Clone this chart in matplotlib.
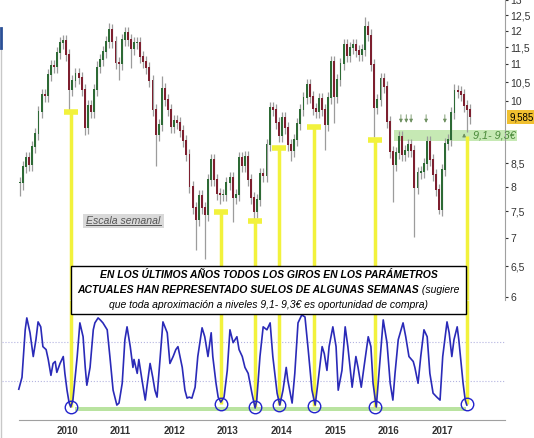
import matplotlib as mp
# Headless
mp.use('Agg')

import matplotlib.pyplot as plt
from matplotlib.patches import Rectangle
from matplotlib.lines import Line2D
import numpy as np

# weekly chart, one close read every 3 weeks starting Feb 2009
start_year = 2009.123
step_weeks = 3
closes = [
    8.07, 8.42, 8.62, 8.46, 8.87, 9.17, 9.72, 10.16, 10.13, 10.70,
    10.95, 10.92, 11.33, 11.63, 11.69, 11.27, 10.29, 10.53, 10.73, 10.62,
    10.29, 9.32, 9.87, 9.72, 10.29, 10.92, 11.13, 11.36, 11.66, 12.03,
    11.66, 11.04, 11.01, 11.72, 11.94, 11.72, 11.45, 11.63, 11.63, 11.21,
    11.07, 10.90, 10.53, 9.77, 9.15, 9.39, 10.32, 10.03, 9.77, 9.34,
    9.49, 9.44, 9.25, 9.01, 8.69, 7.99, 7.57, 7.34, 7.81, 7.57,
    7.43, 8.14, 8.58, 8.14, 7.85, 7.83, 7.83, 8.07, 8.18, 7.77,
    7.83, 8.62, 8.44, 8.64, 8.14, 7.77, 7.49, 7.73, 8.27, 8.23,
    8.92, 9.82, 9.77, 9.44, 9.13, 9.57, 9.32, 8.92, 8.78, 9.03,
    9.42, 9.77, 10.08, 10.43, 10.11, 9.79, 9.72, 10.05, 9.77, 9.39,
    10.08, 11.07, 10.11, 10.56, 11.01, 11.57, 11.24, 11.48, 11.57, 11.39,
    11.27, 11.42, 12.13, 11.87, 10.98, 9.82, 10.03, 10.59, 10.37, 9.47,
    8.76, 8.46, 8.73, 9.10, 8.69, 8.78, 8.92, 8.78, 7.97, 8.29,
    8.31, 8.49, 8.99, 8.58, 8.25, 7.93, 7.53, 8.36, 8.94, 9.03,
    9.69, 10.27, 10.24, 10.16, 9.87, 9.77, 9.585,
]
# long wicks
low_idx = [0, 16, 21, 32, 36, 44, 57, 60, 65, 69, 76, 88, 99, 102, 115, 121, 128, 136, 145]
low_val = [7.80, 9.75, 9.15, 10.56, 10.90, 8.45, 6.78, 6.63, 7.65, 7.30, 7.28, 8.55, 8.80, 9.45, 9.10, 7.69, 7.02, 7.45, 9.22]
high_idx = [29, 46, 112, 141]
high_val = [12.25, 10.66, 12.45, 10.45]

# oscillator (0-100)
osc_t = [
    2009.10, 2009.16, 2009.22, 2009.25, 2009.31, 2009.37, 2009.42, 2009.46, 2009.51, 2009.55,
    2009.61, 2009.65, 2009.70, 2009.74, 2009.78, 2009.81, 2009.87, 2009.93, 2009.96, 2010.00,
    2010.04, 2010.07, 2010.11, 2010.19, 2010.24, 2010.30, 2010.34, 2010.37, 2010.43, 2010.49,
    2010.52, 2010.58, 2010.62, 2010.67, 2010.75, 2010.80, 2010.86, 2010.93, 2010.97, 2011.03,
    2011.08, 2011.12, 2011.18, 2011.23, 2011.25, 2011.31, 2011.34, 2011.40, 2011.46, 2011.49,
    2011.55, 2011.60, 2011.64, 2011.68, 2011.74, 2011.79, 2011.87, 2011.92, 2011.98, 2012.03,
    2012.07, 2012.15, 2012.20, 2012.24, 2012.28, 2012.33, 2012.39, 2012.44, 2012.52, 2012.57,
    2012.63, 2012.69, 2012.72, 2012.78, 2012.82, 2012.87, 2012.93, 2012.99, 2013.04, 2013.10,
    2013.17, 2013.21, 2013.27, 2013.32, 2013.38, 2013.45, 2013.51, 2013.54, 2013.60, 2013.66,
    2013.73, 2013.79, 2013.84, 2013.92, 2013.97, 2014.03, 2014.09, 2014.12, 2014.20, 2014.25,
    2014.31, 2014.38, 2014.44, 2014.50, 2014.57, 2014.63, 2014.68, 2014.76, 2014.80, 2014.85,
    2014.89, 2014.96, 2015.02, 2015.06, 2015.13, 2015.19, 2015.24, 2015.32, 2015.39, 2015.43,
    2015.49, 2015.54, 2015.62, 2015.67, 2015.71, 2015.77, 2015.82, 2015.90, 2015.97, 2016.03,
    2016.08, 2016.12, 2016.18, 2016.27, 2016.32, 2016.38, 2016.46, 2016.49, 2016.55, 2016.60,
    2016.66, 2016.72, 2016.77, 2016.83, 2016.90, 2016.96, 2017.01, 2017.09, 2017.13, 2017.18,
    2017.22, 2017.28, 2017.31, 2017.39, 2017.43, 2017.46,
]
osc_v = [
    22, 34, 82, 94, 79, 55, 72, 90, 85, 65,
    62, 52, 36, 48, 50, 39, 48, 55, 38, 21,
    8, 4, 11, 55, 89, 75, 44, 26, 44, 82,
    89, 94, 92, 89, 82, 55, 21, 6, 8, 28,
    72, 85, 65, 44, 52, 38, 52, 31, 11, 24,
    48, 34, 21, 14, 55, 90, 79, 48, 55, 62,
    65, 44, 21, 13, 14, 13, 24, 55, 84, 75,
    55, 79, 55, 28, 14, 9, 14, 41, 82, 69,
    75, 62, 55, 44, 38, 18, 3, 11, 55, 85,
    82, 89, 55, 18, 6, 21, 44, 31, 8, 38,
    89, 97, 95, 62, 21, 6, 28, 65, 58, 41,
    65, 85, 65, 21, 41, 85, 65, 24, 55, 44,
    24, 44, 75, 65, 28, 4, 38, 92, 69, 28,
    11, 38, 72, 89, 75, 55, 50, 44, 28, 55,
    82, 75, 38, 18, 14, 11, 55, 90, 79, 55,
    72, 85, 72, 28, 11, 6,
]

# oscillator turns marked on the chart
signal_t = [2010.07, 2012.87, 2013.51, 2013.96, 2014.61, 2015.75, 2017.47]
signal_level = [9.72, 7.49, 7.32, 8.85, 9.35, 9.03, 9.13]
signal_osc = [4, 7, 4, 6, 5, 4, 7]
signal_cap = [True, True, True, True, True, True, False]

zone_lo, zone_hi = 9.0, 9.27
touch_t = [2016.23, 2016.33, 2016.42, 2016.70, 2017.05]
touch_up_t = 2017.41
last_price = 9.585

years = list(range(2010, 2018))
price_ticks = [6, 6.5, 7, 7.5, 8, 8.5, 10, 10.5, 11, 11.5, 12, 12.5, 13]

plt.rcParams['font.family'] = ['Liberation Sans', 'DejaVu Sans']

W, H = 534, 438
fig = plt.figure(figsize=(W / 100, H / 100), dpi=100)


def fx(px):
    return px / W


def fy(py):
    return 1 - py / H


ax = fig.add_axes([fx(2), fy(300), fx(505) - fx(2), fy(0) - fy(300)])
ax2 = fig.add_axes([fx(2), fy(420), fx(505) - fx(2), fy(300) - fy(420)])
for a in (ax, ax2):
    a.patch.set_alpha(0)
    a.set_xlim(2008.787, 2018.172)

yel = '#f2f23c'
ylo, yhi = 5.956, 13.01
olo, ohi = -9.1, 112.1

# candles
t = start_year + np.arange(len(closes)) * step_weeks / 52.18
c = np.array(closes)
o = np.r_[c[0], c[:-1]]
hi = np.maximum(o, c) * 1.016
lo = np.minimum(o, c) * 0.984
hi[high_idx] = high_val
lo[low_idx] = low_val
up = c >= o
ax.vlines(t, lo, hi, color='#9c9c9c', lw=0.9, zorder=2)
ax.bar(t[up], (c - o)[up] + 0.02, bottom=o[up], width=0.036, color='#2d6a35', zorder=3)
ax.bar(t[~up], (o - c)[~up] + 0.02, bottom=c[~up], width=0.036, color='#7d1f2f', zorder=3)

ax.set_yscale('log')
ax.set_ylim(ylo, yhi)
ax.yaxis.tick_right()
ax.set_yticks(price_ticks)
ax.set_yticklabels([('%g' % p).replace('.', ',') for p in price_ticks])
ax.yaxis.set_minor_locator(mp.ticker.NullLocator())
ax.tick_params(axis='y', length=2, labelsize=7.5, colors='#333333', pad=2)
ax.set_xticks([])
for s in ('top', 'left', 'bottom'):
    ax.spines[s].set_visible(False)
ax.spines['right'].set_color('#a0a0a0')

# support zone 9,1-9,3
ax.add_patch(Rectangle((2016.10, zone_lo), 2018.40 - 2016.10, zone_hi - zone_lo,
                       fc='#c6e9b4', ec='none', clip_on=False, zorder=1))
ax.text(2017.57, 9.13, '9,1- 9,3€', style='italic', color='#4a8a3a', fontsize=7.8,
        va='center', ha='left', zorder=6, clip_on=False)
for tt in touch_t:
    ax.annotate('', xy=(tt, 9.38), xytext=(tt, 9.72),
                arrowprops=dict(arrowstyle='-|>', color='#6d8f5f', lw=0.6, mutation_scale=5))
ax.annotate('', xy=(touch_up_t, 9.26), xytext=(touch_up_t, 9.05),
            arrowprops=dict(arrowstyle='-|>', color='#6d8f5f', lw=0.6, mutation_scale=5))

ax.annotate(('%g' % last_price).replace('.', ','), xy=(1.0, last_price),
            xycoords=('axes fraction', 'data'), xytext=(3, 0), textcoords='offset points',
            ha='left', va='center', fontsize=7, color='black', annotation_clip=False,
            bbox=dict(boxstyle='square,pad=0.2', fc='#f0c030', ec='none'))

# oscillator panel
ax2.set_ylim(olo, ohi)
ax2.axhline(70, color='#b4b4e0', lw=0.8, ls=':', zorder=1)
ax2.axhline(30, color='#b4b4e0', lw=0.8, ls=':', zorder=1)
ax2.fill_between([2010.15, 2017.44], 0, 4, color='#b9e3a0', lw=0, zorder=1)
ax2.plot(osc_t, osc_v, color='#2a2ab8', lw=1.2, zorder=3, solid_joinstyle='round')

for ti, lvl, ov, cap in zip(signal_t, signal_level, signal_osc, signal_cap):
    ax.vlines(ti, ylo, lvl, color=yel, lw=2.5, zorder=4)
    if cap:
        ax.hlines(lvl, ti - 0.13, ti + 0.13, color=yel, lw=4, zorder=4)
    ax2.vlines(ti, ov, ohi, color=yel, lw=2.5, zorder=2)
ax2.plot(signal_t, signal_osc, 'o', ms=9, mfc='none', mec='#2222cc', mew=1, zorder=4)

ax2.set_yticks([])
ax2.set_xticks(years)
ax2.set_xticklabels([str(y) for y in years])
ax2.tick_params(axis='x', length=0, labelsize=7, colors='#333333', pad=4)
for lab in ax2.get_xticklabels():
    lab.set_fontweight('bold')
for s in ('top', 'left', 'right'):
    ax2.spines[s].set_visible(False)
ax2.spines['bottom'].set_color('#a0a0a0')
ax2.spines['bottom'].set_bounds(2009.10, 2018.172)

# left border
fig.add_artist(Line2D([fx(1), fx(1)], [fy(48), fy(438)], color='#c8c8c8', lw=1))
fig.add_artist(Line2D([fx(1), fx(1)], [fy(28), fy(48)], color='#2a4f96', lw=2))

# "Escala semanal" label
fig.add_artist(Rectangle((fx(83), fy(228)), fx(164) - fx(83), fy(214) - fy(228),
                         fc='#d9d9d9', ec='none', transform=fig.transFigure, zorder=5))
esc = fig.text(fx(123.5), fy(221), 'Escala semanal', style='italic', color='#555555',
               fontsize=7.6, ha='center', va='center', zorder=6)

# comment box
fig.add_artist(Rectangle((fx(71), fy(314)), fx(466) - fx(71), fy(266) - fy(314),
                         fc='white', ec='black', lw=1, transform=fig.transFigure, zorder=10))
fs = 7.45
fig.text(fx(268.5), fy(275), 'EN LOS ÚLTIMOS AÑOS TODOS LOS GIROS EN LOS PARÁMETROS',
         style='italic', weight='bold', fontsize=fs, ha='center', va='center', zorder=11)
l2a = fig.text(0, fy(290), 'ACTUALES HAN REPRESENTADO SUELOS DE ALGUNAS SEMANAS',
               style='italic', weight='bold', fontsize=fs, ha='left', va='center', zorder=11)
l2b = fig.text(0, fy(290), ' (sugiere', style='italic', fontsize=fs,
               ha='left', va='center', zorder=11)
fig.text(fx(268.5), fy(305), 'que toda aproximación a niveles 9,1- 9,3€ es oportunidad de compra)',
         style='italic', fontsize=fs, ha='center', va='center', zorder=11)

r = fig.canvas.get_renderer()
wa = l2a.get_window_extent(r).width
wb = l2b.get_window_extent(r).width
x0 = 268.5 - (wa + wb) / 2
l2a.set_x(fx(x0))
l2b.set_x(fx(x0 + wa))

bb = esc.get_window_extent(r)
fig.add_artist(Line2D([bb.x0 / W, bb.x1 / W], [(bb.y0 + 1) / H, (bb.y0 + 1) / H],
                      color='#555555', lw=0.7, zorder=6))

fig.savefig('out.png', dpi=100)
